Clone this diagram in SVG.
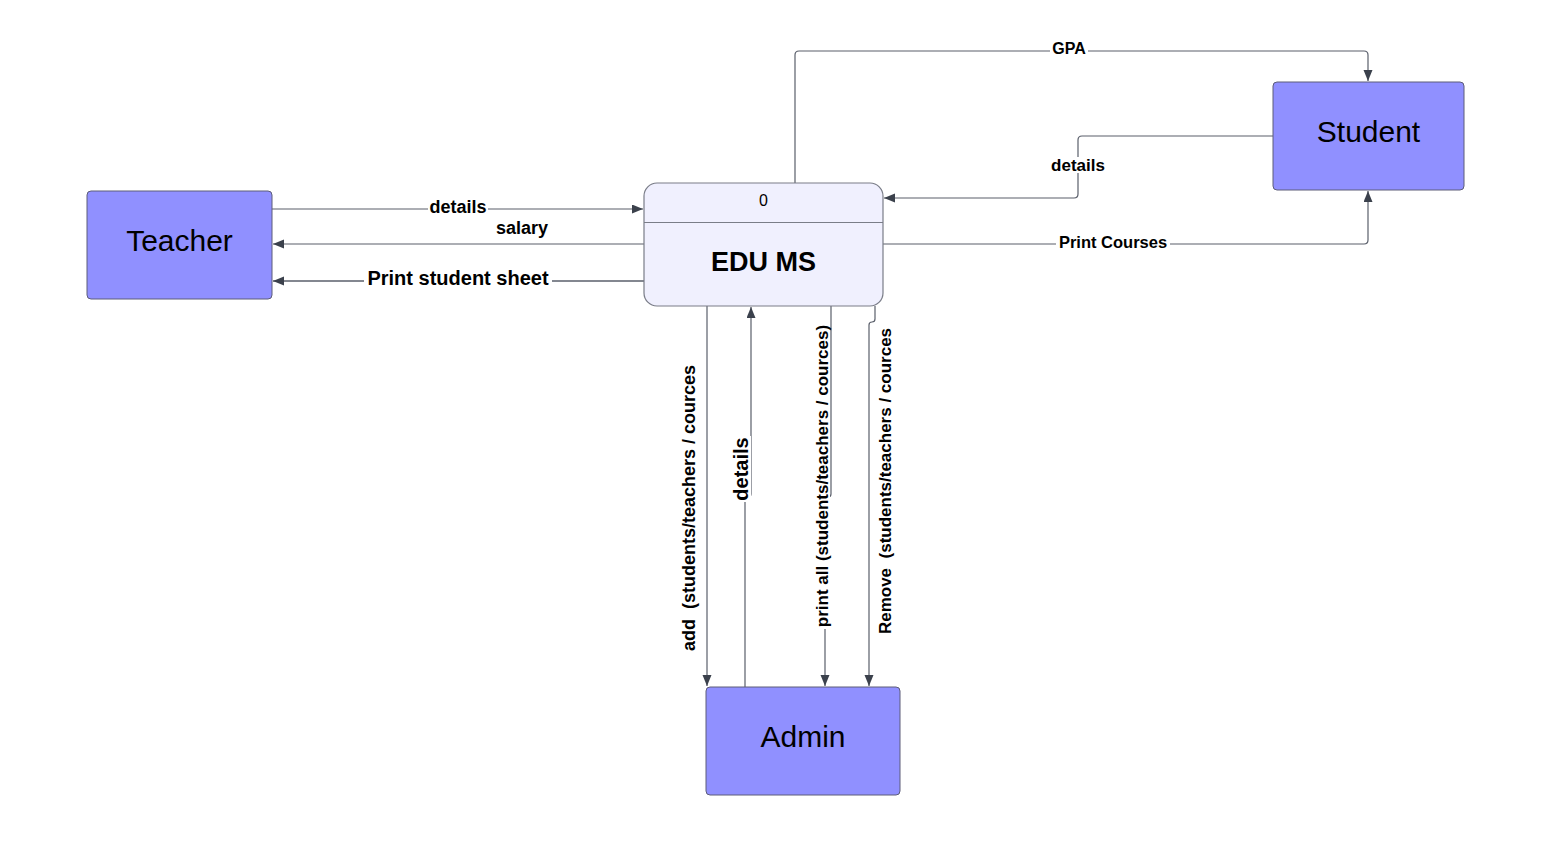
<svg xmlns="http://www.w3.org/2000/svg" width="1550" height="849" viewBox="0 0 1550 849">
<style>
.ext{fill:#9090ff;stroke:#5d5d78;stroke-width:1}
.nt{font-family:"Liberation Sans",Arial,sans-serif;font-size:30px;fill:#000;text-anchor:middle}
.proc{fill:#f0f0fe;stroke:#7a7d88;stroke-width:1.2}
.c{fill:none;stroke:#5a5f6b;stroke-width:1.2}
.bg{fill:#fff}
.lb{font-family:"Liberation Sans",Arial,sans-serif;font-weight:bold;fill:#000;text-anchor:middle;white-space:pre}
</style>
<defs>
<marker id="ah" markerUnits="userSpaceOnUse" markerWidth="12" markerHeight="10" refX="11" refY="4.5" orient="auto">
<path d="M0,0 L11,4.5 L0,9 z" fill="#3b414c"/>
</marker>
</defs>
<rect width="1550" height="849" fill="#fff"/>
<g id="connectors">
<path class="c" d="M272,209 H643" marker-end="url(#ah)"/>
<path class="c" d="M644,244 H273" marker-end="url(#ah)"/>
<path class="c" d="M644,281 H273" style="stroke-width:1.6" marker-end="url(#ah)"/>
<path class="c" d="M795,183 V55 Q795,51 799,51 H1364 Q1368,51 1368,55 V81" marker-end="url(#ah)"/>
<path class="c" d="M1273,136 H1082 Q1078,136 1078,140 V194 Q1078,198 1074,198 H884" marker-end="url(#ah)"/>
<path class="c" d="M883,244 H1364 Q1368,244 1368,240 V191" marker-end="url(#ah)"/>
<path class="c" d="M707,306 V686" marker-end="url(#ah)"/>
<path class="c" d="M745,687 V500 Q745,497 748,497 Q751,497 751,494 V307" marker-end="url(#ah)"/>
<path class="c" d="M831,306 V494 Q831,497 828,497 Q825,497 825,500 V686" marker-end="url(#ah)"/>
<path class="c" d="M875,306 V319 Q875,322 872,322 Q869,322 869,325 V686" marker-end="url(#ah)"/>
<rect class="bg" x="428" y="200" width="60" height="16"/>
<rect class="bg" x="364" y="269" width="188" height="19"/>
<rect class="bg" x="1050" y="42" width="38" height="15"/>
<rect class="bg" x="1050" y="157" width="56" height="16"/>
<rect class="bg" x="1056" y="235" width="114" height="15"/>
<rect class="bg" x="733" y="436" width="18" height="66"/>
<rect class="bg" x="813" y="322" width="17" height="307"/>
<text class="lb" x="458" y="213" font-size="18">details</text>
<text class="lb" x="522" y="234" font-size="18">salary</text>
<text class="lb" x="458" y="285" font-size="20">Print student sheet</text>
<text class="lb" x="1069" y="54" font-size="16">GPA</text>
<text class="lb" x="1078" y="171" font-size="17">details</text>
<text class="lb" x="1113" y="248" font-size="16.5">Print Courses</text>
<text class="lb" transform="translate(695,508) rotate(-90)" font-size="18" xml:space="preserve">add  (students/teachers / cources</text>
<text class="lb" transform="translate(748,469) rotate(-90)" font-size="20">details</text>
<text class="lb" transform="translate(828,476) rotate(-90)" font-size="17">print all (students/teachers / cources)</text>
<text class="lb" transform="translate(891,481) rotate(-90)" font-size="17" xml:space="preserve">Remove  (students/teachers / cources</text>
</g>
<g id="teacher">
<rect class="ext" x="87" y="191" width="185" height="108" rx="4"/>
<text class="nt" x="179.5" y="251">Teacher</text>
</g>
<g id="student">
<rect class="ext" x="1273" y="82" width="191" height="108" rx="4"/>
<text class="nt" x="1368.5" y="142">Student</text>
</g>
<g id="admin">
<rect class="ext" x="706" y="687" width="194" height="108" rx="4"/>
<text class="nt" x="803" y="747">Admin</text>
</g>
<g id="edums">
<rect class="proc" x="644" y="183" width="239" height="123" rx="13"/>
<line x1="644" y1="222.5" x2="883" y2="222.5" stroke="#7a7d88" stroke-width="1.2"/>
<text x="763.5" y="206" font-family="Liberation Sans,Arial,sans-serif" font-size="16" text-anchor="middle" fill="#000">0</text>
<text x="763.5" y="271" font-family="Liberation Sans,Arial,sans-serif" font-size="27" font-weight="bold" text-anchor="middle" fill="#000">EDU MS</text>
</g>
</svg>
